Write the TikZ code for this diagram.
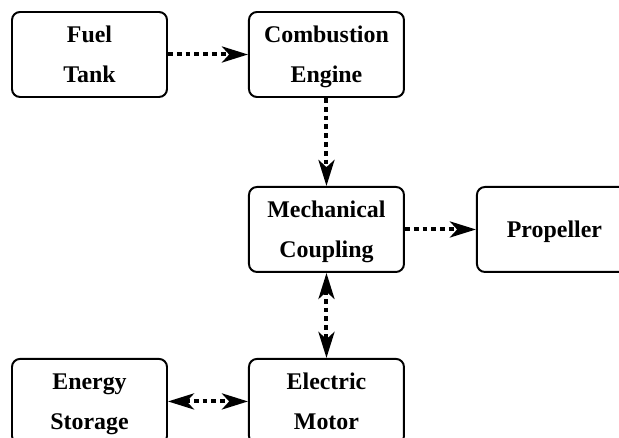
\documentclass[tikz,border=0pt]{standalone}
\usepackage{fontspec}
\setmainfont{Liberation Serif}
\usetikzlibrary{arrows.meta,positioning}

\begin{document}
\begin{tikzpicture}[
  node distance=2.2cm and 2cm,
  every node/.style={align=center, font=\bfseries\fontsize{17}{28.5}\selectfont},
  unit/.style={rectangle, draw=black, line width=1.4pt, rounded corners=0.2cm, minimum width=3.875cm, minimum height=2.125cm, inner sep=0pt, text depth=-3pt},
  flow/.style={-{Stealth[length=0.65cm, width=0.4cm, inset=0.18cm]}, line width=0.1cm, dash pattern=on 0.12cm off 0.1cm},
  both/.style={flow, {Stealth[length=0.65cm, width=0.4cm, inset=0.18cm]}-{Stealth[length=0.65cm, width=0.4cm, inset=0.18cm]}}
]

% --- FRAME ---
\clip (0,0) rectangle (15.475,-10.95);

% --- TOP ROW ---
\node[unit] (fuel) at (2.2375,-1.3625) {Fuel\\Tank};
\node[unit, right=of fuel] (engine) {Combustion\\Engine};

% --- MIDDLE ROW ---
\node[unit, below=of engine] (coupling) {Mechanical\\Coupling};
\node[unit, right=1.775cm of coupling] (propeller) {Propeller};

% --- BOTTOM ROW ---
\node[unit, below=2.125cm of coupling] (motor) {Electric\\Motor};
\node[unit, left=of motor] (storage) {Energy\\Storage};

% --- POWER FLOWS ---
\draw[flow] (fuel) -- (engine);
\draw[flow] (engine) -- (coupling);
\draw[flow] (coupling) -- (propeller);
\draw[both] (coupling) -- (motor);
\draw[both] (storage) -- (motor);

\end{tikzpicture}
\end{document}
